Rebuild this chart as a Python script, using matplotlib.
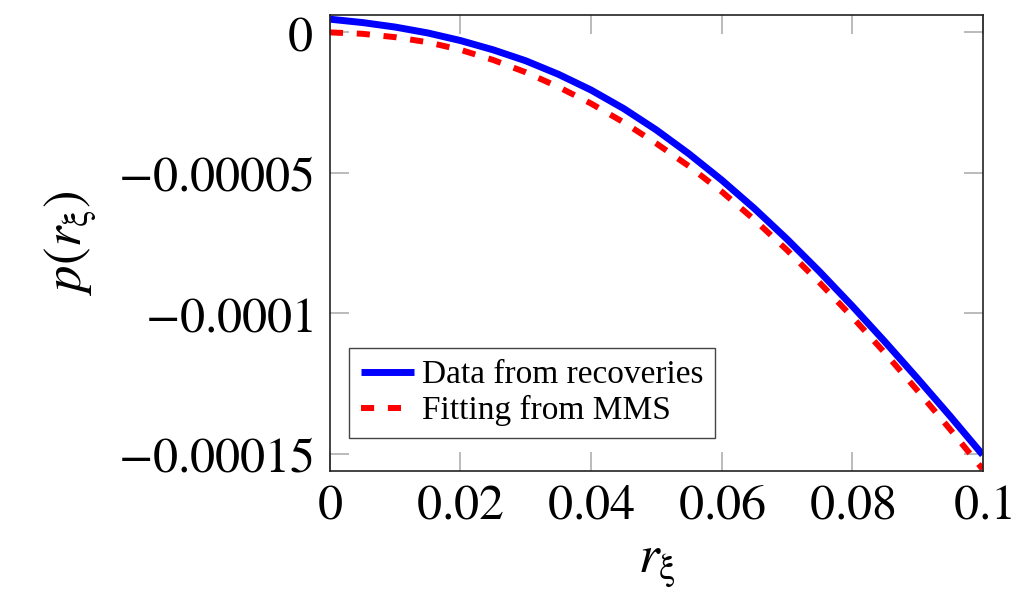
import matplotlib
matplotlib.use("Agg")
import matplotlib.pyplot as plt
from matplotlib.ticker import FixedLocator, FixedFormatter

plt.rcParams["font.family"] = ["Liberation Serif", "DejaVu Serif"]
plt.rcParams["mathtext.fontset"] = "stix"
plt.rcParams["axes.unicode_minus"] = True

# radial coordinate and pressure profiles
r_xi = [0.0, 0.005, 0.01, 0.015, 0.02, 0.025, 0.03, 0.035, 0.04, 0.045,
        0.05, 0.055, 0.06, 0.065, 0.07, 0.075, 0.08, 0.085, 0.09, 0.095, 0.1]
p_recovered = [4.7e-6, 3.5e-6, 1.9e-6, -0.2e-6, -2.9e-6, -6.2e-6, -10.1e-6,
               -14.9e-6, -20.5e-6, -27.1e-6, -34.7e-6, -43.2e-6, -52.5e-6,
               -62.6e-6, -73.5e-6, -85.1e-6, -97.3e-6, -110.0e-6, -123.1e-6,
               -136.5e-6, -150.3e-6]
p_mms_fit = [0.0, -0.5e-6, -1.7e-6, -3.5e-6, -6.2e-6, -9.8e-6, -14.2e-6,
             -19.4e-6, -25.3e-6, -32.0e-6, -39.5e-6, -47.6e-6, -56.6e-6,
             -66.6e-6, -77.4e-6, -89.0e-6, -101.2e-6, -114.0e-6, -127.4e-6,
             -141.2e-6, -155.4e-6]

xticks = [0, 0.02, 0.04, 0.06, 0.08, 0.1]
xtick_labels = ["$0$", "$0.02$", "$0.04$", "$0.06$", "$0.08$", "$0.1$"]
yticks = [0, -0.00005, -0.0001, -0.00015]
ytick_labels = ["$0$", "$-0.00005$", "$-0.0001$", "$-0.00015$"]

fig = plt.figure(figsize=(10.12, 5.99), dpi=100)
ax = fig.add_axes([0.326, 0.214, 0.645, 0.761])

ax.plot(r_xi, p_recovered, color="blue", linewidth=5.0,
        solid_capstyle="butt", label="Data from recoveries")
ax.plot(r_xi, p_mms_fit, color="red", linewidth=4.3,
        dashes=(2.2, 2.3), dash_capstyle="butt", label="Fitting from MMS")

ax.set_xlim(0, 0.1)
ax.set_ylim(-0.000156, 0.0000062)

ax.xaxis.set_major_locator(FixedLocator(xticks))
ax.xaxis.set_major_formatter(FixedFormatter(xtick_labels))
ax.yaxis.set_major_locator(FixedLocator(yticks))
ax.yaxis.set_major_formatter(FixedFormatter(ytick_labels))

ax.tick_params(direction="in", length=14, width=1.1, color="#a8a8a8",
               top=True, right=True, labelsize=36, pad=9)
ax.tick_params(axis="y", pad=12)
for side in ax.spines.values():
    side.set_linewidth(1.2)
    side.set_color("#222222")

ax.set_xlabel(r"$r_{\mathrm{\xi}}$", fontsize=38, labelpad=8)
ax.set_ylabel(r"$p(r_{\mathrm{\xi}})$", fontsize=38, labelpad=14)

leg = ax.legend(loc="lower left", bbox_to_anchor=(0.029, 0.072),
                borderaxespad=0, fontsize=24, fancybox=False,
                edgecolor="#444444", framealpha=1, handlelength=1.6,
                handletextpad=0.25, labelspacing=0.15, borderpad=0.35)
leg.get_frame().set_linewidth(1.0)

fig.savefig("out.png", dpi=100)
